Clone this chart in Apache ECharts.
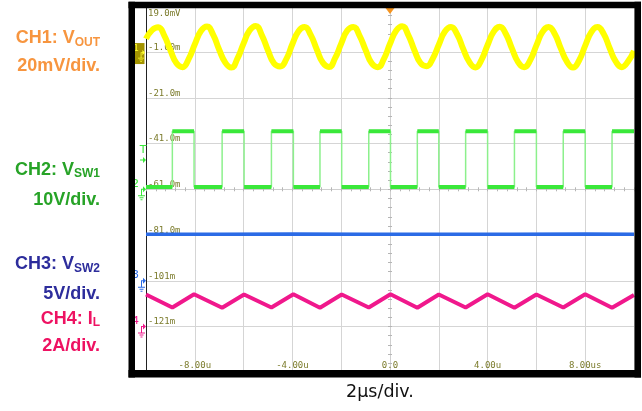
<!DOCTYPE html>
<html><head><meta charset="utf-8">
<script src="https://cdn.jsdelivr.net/npm/echarts@6/dist/echarts.min.js"></script>
<style>html,body{margin:0;padding:0;background:#fff}#c{width:642px;height:411px}</style>
</head><body><div id="c"></div>
<script>
// ---- data ----
const sampleStartUs = -10, sampleStepUs = 0.25;
const ch1VoutMv = [
  5.8, 9.6, 10.8, 7.2, 0.8, -4.9, -6.6, -3.0,
  3.4, 9.2, 11.2, 7.6, 1.0, -4.6, -6.8, -2.8,
  3.8, 9.5, 11.4, 7.3, 0.7, -5.0, -6.3, -3.1,
  3.5, 9.1, 10.9, 7.5, 1.1, -4.7, -6.5, -2.7,
  3.7, 9.4, 11.0, 7.2, 0.9, -4.9, -6.6, -3.0,
  3.6, 9.3, 11.3, 7.4, 0.8, -4.8, -6.2, -2.9,
  3.2, 9.0, 10.9, 7.8, 1.4, -4.3, -6.7, -3.4,
  3.1, 8.9, 11.1, 7.9, 1.5, -4.4, -6.6, -3.5,
  2.9, 8.8, 11.0, 8.0, 1.6, -4.2, -6.8, -3.7,
  2.8, 8.7, 10.9, 8.1, 1.8, -4.1, -6.6, -4.2,
  0.5
];
const ch2RiseUs = [-8.92, -6.88, -4.86, -2.87, -0.87, 1.12, 3.1, 5.1, 7.1, 9.1];
const ch2FallUs = [-8.03, -5.98, -3.96, -1.98, 0.02, 2.0, 4.0, 6.0, 8.0];
const ch2LowV = 0.5, ch2HighV = 12.7;
const ch3TimeUs = [-10, -7, -4, -1, 2, 5, 8, 10];
const ch3VswV = [5.1, 5.08, 5.11, 5.09, 5.1, 5.08, 5.11, 5.1];
const ch4TimeUs = [-10.0, -8.92, -8.03, -6.88, -5.98, -4.86, -3.96, -2.87, -1.98, -0.87, 0.02, 1.12, 2.0, 3.1, 4.0, 5.1, 6.0, 7.1, 8.0, 9.1, 10.0];
const ch4IlA = [1.40, 0.83, 1.41, 0.82, 1.40, 0.83, 1.41, 0.82, 1.40, 0.83, 1.41, 0.82, 1.40, 0.83, 1.41, 0.82, 1.40, 0.83, 1.41, 0.82, 1.38];
const trigLevelV = 6.4;
const yTickLabels = ['19.0mV', '-1.00m', '-21.0m', '-41.0m', '-61.0m', '-81.0m', '-101m', '-121m', ''];
const xTickValues = [-8, -4, 0, 4, 8];
const xTickLabels = ['-8.00u', '-4.00u', '0.0', '4.00u', '8.00us'];
const chanTitles = [['CH1: V', 'OUT'], ['CH2: V', 'SW1'], ['CH3: V', 'SW2'], ['CH4: I', 'L']];
const chanScales = ['20mV/div.', '10V/div.', '5V/div.', '2A/div.'];
const timeScaleLabel = '2µs/div.';

// scope channel settings: units per division, ground marker in divisions from centre
const scale = {
  ch1: { perDiv: 20, ground: 3 },
  ch2: { perDiv: 10, ground: 0 },
  ch3: { perDiv: 5, ground: -2 },
  ch4: { perDiv: 2, ground: -3 }
};
const chanColors = ['#f7953f', '#27a327', '#2d2d9c', '#ee1262'];
const traceColors = { ch1: '#ffff00', ch2: '#3ae83a', ch2edge: '#8cf08c', ch3: '#2b6be6', ch4: '#f0188c' };

const toDiv = (v, c) => (v === '-' ? '-' : c.ground + v / c.perDiv);

const ch1Data = ch1VoutMv.map((v, i) => [sampleStartUs + i * sampleStepUs, toDiv(v, scale.ch1)]);

const ch2Edges = [[-10, ch2LowV]], ch2Levels = [];
let segStart = -10;
for (let i = 0; i < ch2RiseUs.length; i++) {
  const r = ch2RiseUs[i];
  ch2Edges.push([r, ch2LowV], [r, ch2HighV]);
  ch2Levels.push([segStart, ch2LowV], [r, ch2LowV], [r, '-']);
  const f = ch2FallUs[i];
  if (f !== undefined) {
    ch2Edges.push([f, ch2HighV], [f, ch2LowV]);
    ch2Levels.push([r, ch2HighV], [f, ch2HighV], [f, '-']);
    segStart = f;
  } else {
    ch2Edges.push([10, ch2HighV]);
    ch2Levels.push([r, ch2HighV], [10, ch2HighV]);
  }
}
const ch2EdgeData = ch2Edges.map(p => [p[0], toDiv(p[1], scale.ch2)]);
const ch2LevelData = ch2Levels.map(p => [p[0], toDiv(p[1], scale.ch2)]);
const ch3Data = ch3TimeUs.map((t, i) => [t, toDiv(ch3VswV[i], scale.ch3)]);
const ch4Data = ch4TimeUs.map((t, i) => [t, toDiv(ch4IlA[i], scale.ch4)]);

const groundGlyph = 'path://M5,0 L8,3 L5,6 Z M3,2.5 L5,2.5 L5,3.5 L3,3.5 Z M3,2.5 L4,2.5 L4,9 L3,9 Z M0,9 L7,9 L7,10 L0,10 Z M1.5,11 L5.5,11 L5.5,12 L1.5,12 Z M2.5,13 L4.5,13 L4.5,14 L2.5,14 Z';
const arrowGlyph = 'path://M5,0 L8,3 L5,6 Z M2,2.5 L5,2.5 L5,3.5 L2,3.5 Z';

function groundMarker(c, label, color) {
  return {
    coord: [-10, c.ground], symbol: groundGlyph, symbolSize: [8, 14], symbolOffset: [-4, 4],
    itemStyle: { color: color },
    label: { show: true, formatter: label, position: [1, -8], align: 'right', verticalAlign: 'top',
      color: color, fontSize: 11, fontFamily: 'DejaVu Sans' }
  };
}

const tickFont = { fontFamily: 'DejaVu Sans Mono', fontSize: 9, color: '#7b7b2b' };

const chart = echarts.init(document.getElementById('c'));
const gridLine = { lineStyle: { color: '#d5d5d5', width: 1 } };
const centerAxisCommon = { axisLabel: { show: false }, splitLine: { show: false } };

const graphics = [
  { type: 'rect', shape: { x: 128.5, y: 1.7, width: 512.5, height: 6.6 }, style: { fill: '#000' }, z: 50, silent: true },
  { type: 'rect', shape: { x: 128.5, y: 370, width: 512.5, height: 7.5 }, style: { fill: '#000' }, z: 50, silent: true },
  { type: 'rect', shape: { x: 128.5, y: 1.7, width: 6.5, height: 375.8 }, style: { fill: '#000' }, z: 50, silent: true },
  { type: 'rect', shape: { x: 634.5, y: 1.7, width: 6.5, height: 375.8 }, style: { fill: '#000' }, z: 50, silent: true }
];
const titleY = [38.5, 170, 264.5, 319];
const scaleY = [66.5, 200, 294.5, 346.5];
chanTitles.forEach((t, i) => {
  const col = chanColors[i];
  graphics.push({
    type: 'text', x: 100, y: titleY[i], z: 60,
    style: {
      text: '{m|' + t[0] + '}{s|' + t[1] + '}', align: 'right', verticalAlign: 'middle',
      rich: {
        m: { fontSize: 18, fontWeight: 'bold', fontFamily: 'Liberation Sans', fill: col, color: col, lineHeight: 20 },
        s: { fontSize: 12, fontWeight: 'bold', fontFamily: 'Liberation Sans', fill: col, color: col, lineHeight: 12, verticalAlign: 'bottom' }
      }
    }
  });
  graphics.push({
    type: 'text', x: 100, y: scaleY[i], z: 60,
    style: { text: chanScales[i], align: 'right', verticalAlign: 'middle', fontSize: 18, fontWeight: 'bold',
      fontFamily: 'Liberation Sans', fill: col }
  });
});
graphics.push({
  type: 'text', x: 380, y: 392.5, z: 60,
  style: { text: timeScaleLabel, align: 'center', verticalAlign: 'middle', fontSize: 17.5,
    fontFamily: 'DejaVu Sans', fill: '#111' }
});

chart.setOption({
  animation: false,
  backgroundColor: '#fff',
  grid: { left: 146, right: 8, top: 6.3, bottom: 38.7 },
  xAxis: [
    { type: 'value', min: -10, max: 10, interval: 2, position: 'bottom',
      axisLine: { onZero: false, show: false }, axisTick: { show: false },
      splitLine: gridLine,
      axisLabel: Object.assign({ inside: true, margin: 2, showMinLabel: true, showMaxLabel: true,
        formatter: v => { const k = xTickValues.indexOf(Math.round(v)); return k >= 0 ? xTickLabels[k] : ''; } }, tickFont) },
    Object.assign({ type: 'value', min: -10, max: 10, interval: 0.4, position: 'bottom',
      axisLine: { onZero: true, onZeroAxisIndex: 0, lineStyle: { color: '#cfcfcf' } },
      axisTick: { show: true, length: 2, lineStyle: { color: '#b5b5b5' } } }, centerAxisCommon),
    Object.assign({ type: 'value', min: -10, max: 10, interval: 0.4, position: 'bottom',
      axisLine: { onZero: true, onZeroAxisIndex: 0, lineStyle: { color: '#cfcfcf' } },
      axisTick: { show: true, inside: true, length: 2, lineStyle: { color: '#b5b5b5' } } }, centerAxisCommon)
  ],
  yAxis: [
    { type: 'value', min: -4, max: 4, interval: 1, position: 'left',
      axisLine: { onZero: false, show: true, lineStyle: { color: '#222', width: 1 } }, axisTick: { show: false },
      splitLine: gridLine,
      axisLabel: Object.assign({ inside: true, margin: 2, showMinLabel: true, showMaxLabel: true, verticalAlign: 'middle',
        formatter: v => { const k = Math.round(4 - v); const s = yTickLabels[k] || ''; if (!s) return ''; return k === 0 ? '{t|' + s + '}' : '{n|' + s + '}'; },
        rich: {
          n: Object.assign({ padding: [0, 0, 9, 0] }, tickFont),
          t: Object.assign({ padding: [14, 0, 0, 0] }, tickFont)
        } }, tickFont) },
    Object.assign({ type: 'value', min: -4, max: 4, interval: 0.2, position: 'left',
      axisLine: { onZero: true, onZeroAxisIndex: 0, lineStyle: { color: '#cfcfcf' } },
      axisTick: { show: true, length: 2, lineStyle: { color: '#b5b5b5' } } }, centerAxisCommon),
    Object.assign({ type: 'value', min: -4, max: 4, interval: 0.2, position: 'left',
      axisLine: { onZero: true, onZeroAxisIndex: 0, lineStyle: { color: '#cfcfcf' } },
      axisTick: { show: true, inside: true, length: 2, lineStyle: { color: '#b5b5b5' } } }, centerAxisCommon)
  ],
  graphic: graphics,
  series: [
    { type: 'line', name: 'CH4 IL', data: ch4Data, showSymbol: false, z: 3,
      lineStyle: { color: traceColors.ch4, width: 4 },
      markPoint: { silent: true, animation: false, data: [groundMarker(scale.ch4, '4', traceColors.ch4)] } },
    { type: 'line', name: 'CH3 VSW2', data: ch3Data, showSymbol: false, z: 3,
      lineStyle: { color: traceColors.ch3, width: 3.5 },
      markPoint: { silent: true, animation: false, data: [groundMarker(scale.ch3, '3', traceColors.ch3)] } },
    { type: 'line', name: 'CH2 edges', data: ch2EdgeData, showSymbol: false, z: 3,
      lineStyle: { color: traceColors.ch2edge, width: 1.5 } },
    { type: 'line', name: 'CH2 VSW1', data: ch2LevelData, showSymbol: false, z: 4, connectNulls: false,
      lineStyle: { color: traceColors.ch2, width: 4 },
      markPoint: { silent: true, animation: false, data: [
        groundMarker(scale.ch2, '2', traceColors.ch2),
        { coord: [-10, toDiv(trigLevelV, scale.ch2)], symbol: arrowGlyph, symbolSize: [6, 6], symbolOffset: [-3, 0],
          itemStyle: { color: traceColors.ch2 },
          label: { show: true, formatter: 'T', position: 'top', distance: 1, color: traceColors.ch2, fontSize: 11, fontFamily: 'DejaVu Sans' } },
        { coord: [0, 4], symbol: 'triangle', symbolRotate: 180, symbolSize: [9, 6], symbolOffset: [0, 4.6],
          itemStyle: { color: '#f5941f' }, label: { show: false } }
      ] } },
    { type: 'line', name: 'CH1 VOUT', data: ch1Data, showSymbol: false, smooth: 0.5, z: 5,
      lineStyle: { color: traceColors.ch1, width: 6 },
      markPoint: { silent: true, animation: false, data: [
        { coord: [-10, scale.ch1.ground], symbol: 'rect', symbolSize: [11, 21], symbolOffset: [-7, 1.5],
          itemStyle: { color: '#a39300' }, label: { show: false } },
        { coord: [-10, scale.ch1.ground], symbol: groundGlyph, symbolSize: [7, 12], symbolOffset: [-4.5, 4],
          itemStyle: { color: '#ffff30' },
          label: { show: true, formatter: '1', position: [1, -6], align: 'right', verticalAlign: 'top', color: '#ffff30', fontSize: 9, fontFamily: 'DejaVu Sans' } }
      ] } }
  ]
});
</script></body></html>
